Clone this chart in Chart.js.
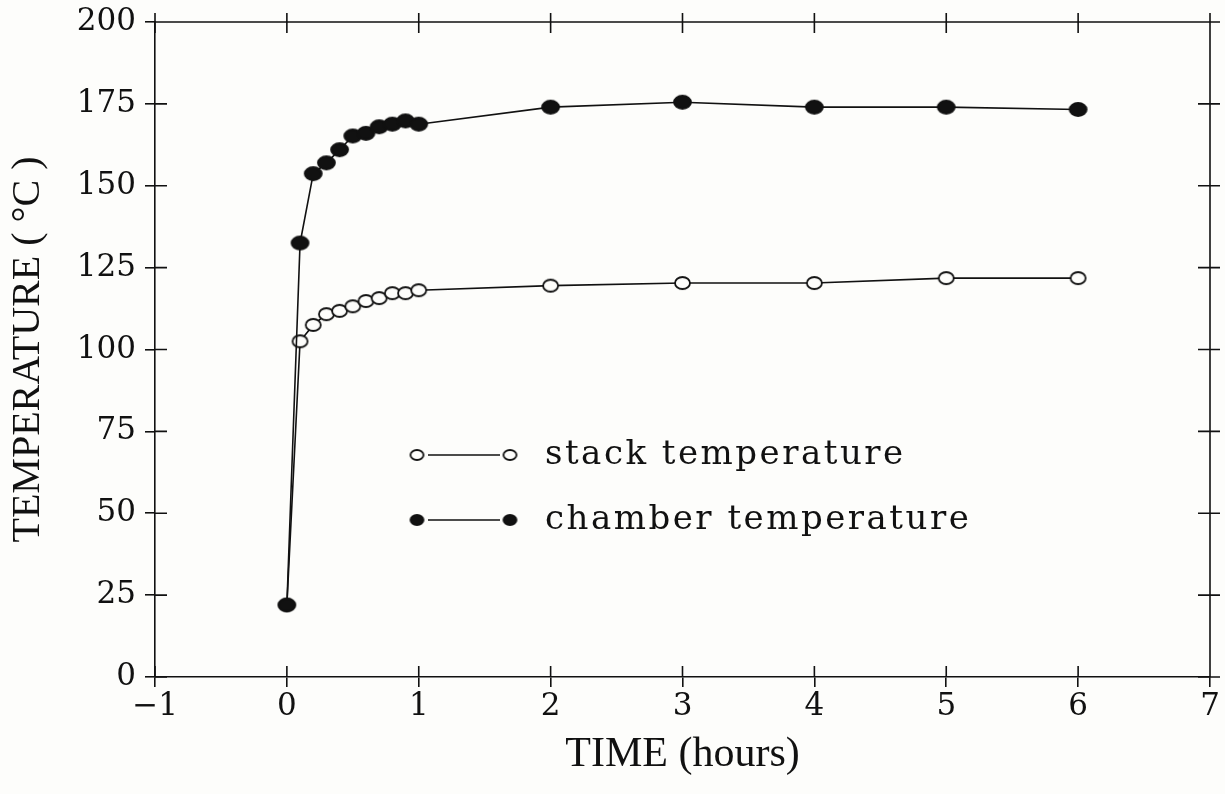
<!DOCTYPE html>
<html>
<head>
<meta charset="utf-8">
<script src="https://cdn.jsdelivr.net/npm/chart.js@4"></script>
<style>
  html, body { margin: 0; padding: 0; background: #fdfdfb; }
  #wrap { width: 1225px; height: 794px; }
</style>
</head>
<body>
<div id="wrap"><canvas id="myChart"></canvas></div>
<script>
// time in hours
const hours = [0, 0.1, 0.2, 0.3, 0.4, 0.5, 0.6, 0.7, 0.8, 0.9, 1, 2, 3, 4, 5, 6];
// temperatures in deg C
const stackTemp = [22, 102.5, 107.5, 110.8, 111.8, 113.2, 114.8, 115.7, 117.2, 117.2, 118.1, 119.5, 120.3, 120.3, 121.8, 121.8];
const chamberTemp = [22, 132.5, 153.7, 157, 161, 165.2, 166, 168, 168.8, 169.8, 168.8, 174, 175.5, 174, 174, 173.3];
const xTicks = [-1, 0, 1, 2, 3, 4, 5, 6, 7];
const yTicks = [0, 25, 50, 75, 100, 125, 150, 175, 200];
const legendLabels = ['stack temperature', 'chamber temperature'];

const ink = '#111';
const paper = '#fdfdfb';

function toPoints(ys) {
  return hours.map((h, i) => ({ x: h, y: ys[i] }));
}

// flattened plotter dots
function dot(rx, ry, fill) {
  const c = document.createElement('canvas');
  c.width = rx * 2 + 4;
  c.height = ry * 2 + 4;
  const g = c.getContext('2d');
  g.beginPath();
  g.ellipse(c.width / 2, c.height / 2, rx, ry, 0, 0, Math.PI * 2);
  g.fillStyle = fill;
  g.fill();
  g.lineWidth = 1.8;
  g.strokeStyle = ink;
  g.stroke();
  return c;
}
const openDot = dot(7.5, 6, paper);
const filledDot = dot(8.5, 6.5, ink);

// ticks crossing the frame, plus the top and right sides of the box
const frameTicks = {
  id: 'frameTicks',
  afterDraw(chart) {
    const { ctx, chartArea: a, scales } = chart;
    ctx.save();
    ctx.strokeStyle = ink;
    ctx.lineWidth = 1.6;
    ctx.beginPath();
    ctx.moveTo(a.left, a.top); ctx.lineTo(a.right, a.top);
    ctx.moveTo(a.right, a.top); ctx.lineTo(a.right, a.bottom);
    xTicks.forEach(v => {
      const px = scales.x.getPixelForValue(v);
      ctx.moveTo(px, a.bottom); ctx.lineTo(px, a.bottom - 11);
      ctx.moveTo(px, a.top - 9); ctx.lineTo(px, a.top + 11);
    });
    yTicks.forEach(v => {
      const py = scales.y.getPixelForValue(v);
      ctx.moveTo(a.left, py); ctx.lineTo(a.left + 12, py);
      ctx.moveTo(a.right - 12, py); ctx.lineTo(a.right + 10, py);
    });
    ctx.stroke();
    ctx.restore();
  }
};

// legend drawn inside the plot, in the old plotter style
const insideLegend = {
  id: 'insideLegend',
  afterDraw(chart) {
    const { ctx } = chart;
    const rows = [
      { y: 455, img: dot(6.5, 5, paper), text: legendLabels[0] },
      { y: 520, img: dot(6.5, 5, ink), text: legendLabels[1] }
    ];
    ctx.save();
    rows.forEach(r => {
      ctx.strokeStyle = ink;
      ctx.lineWidth = 1.6;
      ctx.beginPath();
      ctx.moveTo(428, r.y); ctx.lineTo(500, r.y);
      ctx.stroke();
      [417, 510].forEach(cx => {
        ctx.drawImage(r.img, cx - r.img.width / 2, r.y - r.img.height / 2);
      });
      ctx.fillStyle = ink;
      ctx.font = '34px "DejaVu Serif"';
      ctx.letterSpacing = '2.5px';
      ctx.textBaseline = 'middle';
      ctx.textAlign = 'left';
      ctx.fillText(r.text, 545, r.y);
    });
    ctx.restore();
  }
};

new Chart(document.getElementById('myChart'), {
  type: 'line',
  data: {
    datasets: [
      {
        label: legendLabels[0],
        data: toPoints(stackTemp),
        borderColor: ink,
        borderWidth: 1.6,
        pointStyle: openDot,
        pointRadius: 7,
        tension: 0,
        order: 2
      },
      {
        label: legendLabels[1],
        data: toPoints(chamberTemp),
        borderColor: ink,
        borderWidth: 1.6,
        pointStyle: filledDot,
        pointRadius: 8,
        tension: 0,
        order: 1
      }
    ]
  },
  options: {
    responsive: true,
    maintainAspectRatio: false,
    animation: false,
    layout: { padding: { top: 22, right: 15, left: 0, bottom: 0 } },
    plugins: { legend: { display: false }, tooltip: { enabled: false } },
    scales: {
      x: {
        type: 'linear',
        min: -1,
        max: 7,
        afterFit(scale) { scale.height = 117; },
        afterBuildTicks(scale) { scale.ticks = xTicks.map(v => ({ value: v })); },
        border: { display: true, color: ink, width: 1.6 },
        grid: { drawOnChartArea: false, color: ink, lineWidth: 1.6, tickLength: 10 },
        ticks: {
          color: ink,
          padding: 1,
          font: { family: '"DejaVu Serif"', size: 31 },
          callback: v => (v < 0 ? '\u2212' + Math.abs(v) : String(v))
        },
        title: {
          display: true,
          text: 'TIME (hours)',
          color: ink,
          font: { family: '"Liberation Serif"', size: 42 },
          padding: { top: 0, bottom: 14 }
        }
      },
      y: {
        min: 0,
        max: 200,
        afterFit(scale) {
          scale.width = 155;
          scale.paddingTop = 0;
          scale.paddingBottom = 0;
        },
        afterBuildTicks(scale) { scale.ticks = yTicks.map(v => ({ value: v })); },
        border: { display: true, color: ink, width: 1.6 },
        grid: { drawOnChartArea: false, color: ink, lineWidth: 1.6, tickLength: 10 },
        ticks: {
          color: ink,
          padding: 9,
          font: { family: '"DejaVu Serif"', size: 31 }
        },
        title: {
          display: true,
          text: 'TEMPERATURE ( \u00B0C )',
          color: ink,
          font: { family: '"Liberation Serif"', size: 40 },
          padding: { top: 4, bottom: 0 }
        }
      }
    }
  },
  plugins: [frameTicks, insideLegend]
});
</script>
</body>
</html>
